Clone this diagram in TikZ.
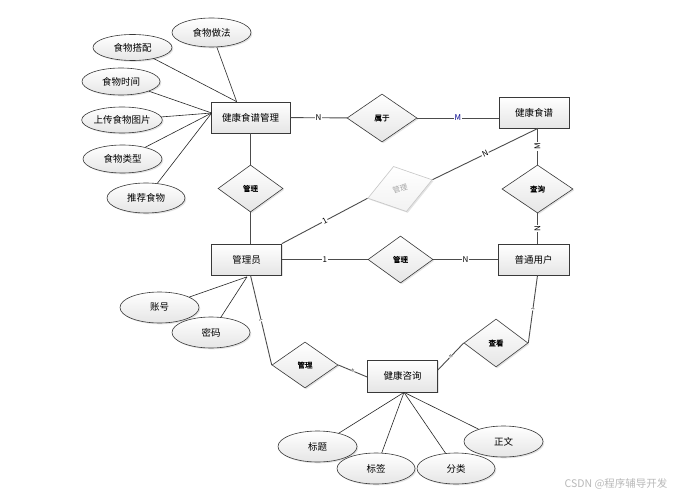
\documentclass[tikz,border=0pt]{standalone}
\usepackage{fontspec}
\setmainfont{Noto Sans CJK SC}[AutoFakeBold=1.2]
\usetikzlibrary{shapes.geometric,shadows,calc}
\begin{document}
\begin{tikzpicture}[x=1pt,y=-1pt,
  every node/.style={font=\fontsize{9.5}{11}\selectfont},
  shade/.style={top color=white, bottom color=gray!20},
  sh/.style={drop shadow={opacity=0.22,shadow xshift=1.3pt,shadow yshift=-1.3pt}},
  ent/.style={rectangle, draw=gray!45!black, line width=0.7pt, shade, sh, minimum width=70pt, minimum height=31pt, inner sep=1pt},
  attr/.style={ellipse, draw=gray!45!black, line width=0.6pt, shade, sh, minimum width=79pt, minimum height=29pt, inner sep=0pt},
  rel/.style={diamond, draw=gray!45!black, line width=0.6pt, shade, sh, minimum width=66pt, minimum height=47pt, inner sep=0pt, font=\fontsize{7.5}{9}\selectfont\bfseries},
  conn/.style={draw=gray!60!black, line width=0.9pt},
  aline/.style={draw=black!85, line width=0.6pt},
  card/.style={fill=white, inner sep=0.8pt, font=\fontsize{8}{9}\selectfont},
  tinylbl/.style={fill=white, inner sep=0.2pt, sloped, font=\fontsize{4}{4}\selectfont},
]
\useasboundingbox (0,0) rectangle (679,497);
\fill[white] (0,0) rectangle (679,497);

% entities
\node[ent, minimum width=79pt] (jsgl) at (250.5,117.5) {健康食谱管理};
\node[ent] (jsp)  at (534,112.5) {健康食谱};
\node[ent] (gly)  at (246.5,259.5) {管理员};
\node[ent, minimum width=71pt] (ptyh) at (533.5,259.5) {普通用户};
\node[ent, minimum height=32pt] (jkzx) at (402.5,376) {健康咨询};

% relationships
\node[rel, minimum width=70pt, minimum height=48pt] (d1) at (382,118) {属于};
\node[rel, minimum width=65pt] (d2) at (250.5,188.5) {管理};
\node[rel, minimum width=67pt, rotate=16, draw=gray!45, text=gray!70, font=\fontsize{7.5}{9}\selectfont, bottom color=gray!10] (d3) at (400,189) {管理};
\node[rel, minimum width=71pt, minimum height=48pt] (d4) at (537.5,189) {查询};
\node[rel, minimum width=65pt] (d5) at (400.5,259.5) {管理};
\node[rel, minimum height=46pt] (d6) at (305,365) {管理};
\node[rel, minimum width=64pt, minimum height=48pt] (d7) at (496,343) {查看};

% attributes
\node[attr] (zwzf) at (211.5,32.5) {食物做法};
\node[attr, minimum height=26pt] (zwdp) at (132.5,47.5) {食物搭配};
\node[attr, minimum width=78pt, minimum height=27pt] (zwsj) at (121,81.5) {食物时间};
\node[attr, minimum width=80pt, minimum height=26pt] (scwt) at (122,120) {上传食物图片};
\node[attr, minimum height=28pt] (zwlx) at (122.5,159) {食物类型};
\node[attr, minimum width=78pt, minimum height=30pt] (tjsw) at (146,198) {推荐食物};
\node[attr, minimum height=31pt] (zh) at (159.5,307.5) {账号};
\node[attr, minimum width=78pt, minimum height=31pt] (mm) at (211,332.5) {密码};
\node[attr, minimum height=31pt] (bt) at (317.5,446.5) {标题};
\node[attr, minimum width=78pt, minimum height=31pt] (bq) at (376,468.5) {标签};
\node[attr, minimum width=78pt, minimum height=31pt] (fl) at (456,468.5) {分类};
\node[attr, minimum height=31pt] (zw) at (503.5,441.5) {正文};

% attribute connectors
\coordinate (jtop) at ($(jsgl.north west)+(26,0)$);
\coordinate (jleft) at ($(jsgl.west)+(1,-4.5)$);
\coordinate (gbot) at ($(gly.south)+(0.5,1.5)$);
\coordinate (kbot) at ($(jkzx.south)+(1.5,0)$);
\draw[aline] (zwzf) -- (jtop);
\draw[aline] (zwdp) -- (jtop);
\draw[aline] (zwsj) -- (jleft);
\draw[aline] (scwt) -- (jleft);
\draw[aline] (zwlx) -- (jleft);
\draw[aline] (tjsw) -- (jleft);
\draw[aline] (zh) -- (gbot);
\draw[aline] (mm) -- (gbot);
\draw[aline] (bt) -- (kbot);
\draw[aline] (bq) -- (kbot);
\draw[aline] (fl) -- (kbot);
\draw[aline] (zw) -- (kbot);

% relationship connectors
\draw[conn] (jsgl) -- node[card]{N} (d1);
\draw[conn] (d1.east) -- node[card, text=blue!55!black]{M} (d1.east -| jsp.west);
\draw[conn] (jsgl) -- (d2);
\draw[conn] (d2) -- (d2.south |- gly.north);
\draw[conn] (gly.north east) -- node[card, sloped]{1} (d3.west);
\coordinate (jspb) at ($(jsp.south)+(4,0)$);
\draw[conn] (d3.east) -- node[card, sloped]{N} (jspb);
\draw[conn] (d4.north |- jsp.south) -- node[card, rotate=90]{M} (d4.north);
\draw[conn] (d4.south) -- node[card, rotate=90]{N} (d4.south |- ptyh.north);
\draw[conn] (gly) -- node[card]{1} (d5);
\draw[conn] (d5) -- node[card]{N} (ptyh);
\coordinate (glyb) at ($(gly.south)+(4,0)$);
\draw[conn] (glyb) -- node[tinylbl]{1} (d6.west);
\coordinate (jkzxl) at ($(jkzx.west)+(0,1)$);
\draw[conn] (d6.east) -- node[tinylbl]{N} (jkzxl);
\coordinate (jkzxr) at ($(jkzx.east)+(0,-6)$);
\draw[conn] (jkzxr) -- node[tinylbl]{N} (d7.west);
\coordinate (ptyhb) at ($(ptyh.south)+(4,0)$);
\draw[conn] (d7.east) -- node[tinylbl]{1} (ptyhb);

% watermark
\node[text=gray!55, font=\fontsize{10.5}{12}\selectfont, anchor=east] (wm) at (671,484) {CSDN @程序辅导开发};
\end{tikzpicture}
\end{document}
